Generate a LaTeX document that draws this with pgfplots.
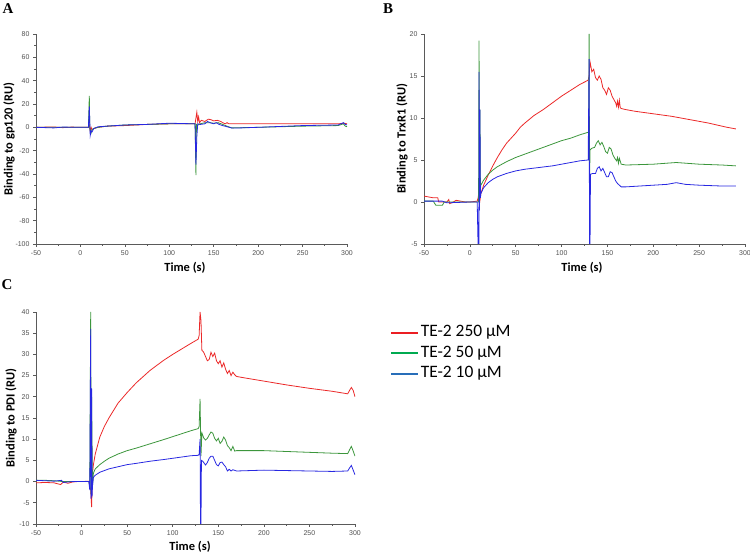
\documentclass[border=0pt]{standalone}
\usepackage{pgfplots}
\pgfplotsset{compat=1.18}
\usepackage{fontspec}
\setmainfont{Liberation Sans}
\newfontfamily\carlito{Carlito}
\newfontfamily\tnr{Liberation Serif}

\definecolor{cred}{RGB}{235,40,40}
\definecolor{cgreen}{RGB}{60,150,60}
\definecolor{cblue}{RGB}{40,40,225}
\definecolor{lred}{RGB}{235,30,35}
\definecolor{lgreen}{RGB}{0,170,80}
\definecolor{lblue}{RGB}{40,110,185}
\definecolor{axgray}{RGB}{90,90,90}
\definecolor{tickgray}{RGB}{80,80,80}

\pgfplotsset{
  spr/.style={
    scale only axis,
    axis lines=left,
    axis line style={-, axgray, line width=0.7bp},
    tick style={axgray, line width=0.6bp},
    tick align=outside,
    major tick length=3bp,
    minor tick length=1.8bp,
    minor x tick num=1,
    minor y tick num=1,
    xmin=-50, xmax=300,
    xtick={-50,0,...,300},
    tick label style={font=\fontsize{7}{7}\selectfont, text=tickgray},
    /pgf/number format/assume math mode=true,
    label style={font=\carlito\bfseries\fontsize{12.5}{13}\selectfont},
    xlabel={Time (s)},
  },
  curve/.style={line width=0.8bp, forget plot},
}

\begin{document}
\begin{tikzpicture}[x=1bp, y=1bp]
\useasboundingbox (0,0) rectangle (750,553);

% panel letters
\node[font=\tnr\bfseries\fontsize{15}{15}\selectfont] at (8,544) {A};
\node[font=\tnr\bfseries\fontsize{15}{15}\selectfont] at (388,544) {B};
\node[font=\tnr\bfseries\fontsize{15}{15}\selectfont] at (7,268) {C};

% ---------------- A: gp120
\begin{axis}[spr,
  at={(36bp,309bp)}, anchor=south west,
  width=311bp, height=210bp,
  ymin=-100, ymax=80, ytick={-100,-80,...,80},
  ylabel={Binding to gp120 (RU)},
  x label style={at={(axis description cs:0.479,-0.114)}, anchor=center},
  y label style={at={(axis description cs:-0.087,0.5)}, anchor=center},
]
\addplot[curve, cred] coordinates {
  (-50,0) (-30,0.3) (-20,-0.3) (-10,0.2) (0,0) (9,0) (10,2) (11,-3) (12,0)
  (13,-2) (15,-1) (20,0) (30,1) (50,1.5) (75,2.5) (100,3) (120,3) (129,3)
  (130,8) (131,13) (132,5) (133,9) (134,4) (136,6) (140,5) (144,7) (147,6.5)
  (150,5.5) (154,6) (158,5) (160,4) (163,3) (165,4) (167,3) (200,3) (250,3)
  (290,3) (297,3.5) (300,3)
};
\addplot[curve, cgreen] coordinates {
  (-50,0) (-20,0) (0,0) (9,0) (10,27) (10.5,0) (11,-3) (12,-5) (13,-2) (15,-1)
  (20,0) (30,1) (50,2) (75,2.5) (100,3) (129,3) (130,-41) (130.5,3) (131,-2)
  (132,2) (135,3) (140,4) (145,4) (150,3.5) (155,4) (160,2.5) (165,1)
  (170,-0.5) (200,0) (250,1) (290,1.5) (296,3) (298,1) (300,0.5)
};
\addplot[curve, cblue] coordinates {
  (-50,0) (-30,-0.5) (-20,0.2) (0,0) (9,0) (10,18) (11,-7) (12,-3) (13,-4)
  (15,-1) (20,0.5) (30,1) (50,2) (75,2.5) (100,3.5) (129,3) (130,-32) (131,-8)
  (132,3) (135,2.5) (140,3) (143,5) (146,4) (150,3) (153,4) (156,2.5) (160,1.5)
  (165,0.5) (170,-0.5) (180,-0.5) (200,0) (250,1.5) (290,2) (296,4) (298,2.5)
  (300,2)
};
\end{axis}

% ---------------- B: TrxR1
\begin{axis}[spr,
  at={(424bp,309bp)}, anchor=south west,
  width=321bp, height=210bp,
  ymin=-5, ymax=20, ytick={-5,0,...,20},
  minor y tick num=0,
  ylabel={Binding to TrxR1 (RU)},
  x label style={at={(axis description cs:0.492,-0.114)}, anchor=center},
  y label style={at={(axis description cs:-0.0685,0.5)}, anchor=center},
]
\addplot[curve, cred] coordinates {
  (-50,0.7) (-40,0.5) (-35,0.5) (-34,0) (-25,0) (-23,0.3) (-22,-0.2) (-18,0)
  (-15,0.2) (-10,0.1) (-5,0) (0,0) (8,0.1) (9,0.5) (10,1.3) (11,0.2) (12,1.0)
  (15,2.0) (20,3.2) (25,4.3) (30,5.3) (35,6.2) (40,7.0) (45,7.6) (50,8.2)
  (55,8.9) (60,9.4) (70,10.3) (80,11.0) (90,11.8) (100,12.6) (110,13.3)
  (120,14.0) (129,14.5) (130,15) (131,16.7) (133,15.5) (135,15.8) (137,14.8)
  (139,14.5) (141,15.0) (143,14.6) (145,13.6) (147,13.3) (149,12.8) (151,13.6)
  (153,13.3) (155,12.6) (157,12.2) (159,11.8) (160,11.4) (161,12.0) (162,11.3)
  (163,12.1) (164,11.2) (166,11.1) (170,11.0) (180,10.8) (200,10.5) (220,10.2)
  (240,9.8) (260,9.4) (280,8.9) (290,8.7)
};
\addplot[curve, cgreen] coordinates {
  (-50,0.1) (-40,0.1) (-37,-0.4) (-30,-0.4) (-28,0) (-10,0) (0,0) (8,0)
  (9.5,0) (10,19.2) (10.5,0.5) (11,11) (11.5,1.5) (12,2.0) (15,2.6) (20,3.3)
  (25,3.8) (30,4.2) (40,4.8) (50,5.3) (60,5.7) (75,6.3) (90,6.9) (100,7.3)
  (110,7.6) (120,8.0) (129,8.3) (129.5,8.3) (130,20) (130.5,2) (131,6.2)
  (133,6.4) (136,6.5) (138,7.0) (140,7.3) (142,6.8) (144,7.1) (146,6.6)
  (148,6.0) (150,5.8) (152,6.5) (154,6.3) (156,5.6) (158,5.2) (160,4.9)
  (161,5.3) (162,4.6) (163,5.2) (165,4.5) (170,4.4) (200,4.5) (225,4.7)
  (250,4.5) (275,4.4) (290,4.3)
};
\addplot[curve, cblue] coordinates {
  (-50,0.1) (-30,0.1) (-25,-0.1) (0,0) (8,0) (9,-5.5) (9.8,-5.5) (10,15.5)
  (10.5,-1) (11,11) (11.5,0.5) (12,1.0) (15,1.7) (20,2.3) (25,2.7) (30,3.0)
  (40,3.4) (50,3.7) (60,3.9) (75,4.1) (90,4.3) (100,4.5) (110,4.7) (120,4.9)
  (129,5.0) (130,17) (130.5,-5.5) (131,-5.5) (131.5,3.3) (134,3.4) (137,3.4)
  (139,4.0) (141,4.2) (143,3.7) (145,4.0) (147,3.5) (149,3.0) (151,3.0)
  (153,3.6) (155,3.5) (157,3.0) (159,2.5) (161,2.2) (163,2.0) (165,1.8)
  (170,1.8) (185,1.9) (200,2.0) (215,2.1) (225,2.3) (235,2.1) (250,2.0)
  (275,1.9) (290,1.9)
};
\end{axis}

% ---------------- C: PDI
\begin{axis}[spr,
  at={(36bp,29bp)}, anchor=south west,
  width=319bp, height=212bp,
  ymin=-10, ymax=40, ytick={-10,-5,...,40},
  minor y tick num=0,
  ylabel={Binding to PDI (RU)},
  x label style={at={(axis description cs:0.483,-0.108)}, anchor=center},
  y label style={at={(axis description cs:-0.078,0.5)}, anchor=center},
  legend style={
    at={(axis description cs:1.10,0.955)}, anchor=north west,
    draw=none, fill=none,
    font=\carlito\fontsize{17.5}{18}\selectfont,
    row sep=2.5bp,
    nodes={inner sep=1.5bp, text height=11.5bp, text depth=3.5bp},
  },
  legend cell align=left,
  legend image code/.code={\draw[#1, line width=2.2bp] (0bp,0bp) -- (27bp,0bp);},
]
\addlegendimage{lred}
\addlegendentry{TE-2 250 µM}
\addlegendimage{lgreen}
\addlegendentry{TE-2 50 µM}
\addlegendimage{lblue}
\addlegendentry{TE-2 10 µM}
\addplot[curve, cred] coordinates {
  (-50,-0.3) (-40,-0.2) (-30,-0.3) (-23,-0.7) (-20,-0.1) (-15,-0.4) (-10,-0.1)
  (-5,0) (0,0) (8,0.1) (10,-2) (11,-6) (12,2) (13,4) (15,6.5) (20,10.5)
  (25,13) (30,15) (40,18.5) (50,21) (60,23.3) (75,26.2) (90,28.6) (100,30)
  (110,31.3) (120,32.6) (128,33.6) (129,34.5) (130,40) (131,38) (132,31)
  (134,30.5) (136,29.5) (138,28.5) (140,28.8) (142,30.5) (144,29.5) (146,30.3)
  (148,28.5) (150,27.8) (152,28.5) (154,27) (156,28) (158,26.5) (160,25.5)
  (162,26.2) (164,25) (166,25.8) (168,25.2) (170,24.8) (175,24.6) (200,23.7)
  (225,22.8) (250,22.0) (275,21.3) (292,20.7) (294,21.5) (296,22.2)
  (298,21.5) (300,20)
};
\addplot[curve, cgreen] coordinates {
  (-50,0.3) (-40,0.3) (-30,0.2) (-20,0) (-10,0) (0,0) (8,0) (9,-1) (10,40)
  (10.5,-3) (11,20) (12,-1) (13,2) (15,3) (20,4) (25,4.8) (30,5.5) (40,6.5)
  (50,7.3) (60,7.9) (75,8.9) (90,9.9) (100,10.6) (110,11.3) (120,12) (128,12.5)
  (129,13) (130,19.5) (131,6) (132,11.5) (134,10.3) (136,9.8) (138,10.2)
  (140,11.0) (142,11.7) (144,11.4) (146,10.2) (148,9.6) (150,10.2) (152,9.0)
  (154,9.5) (156,10.5) (158,9.8) (160,8.5) (162,8.0) (164,7.3) (166,8.3)
  (168,7.2) (170,7.3) (200,7.3) (225,7.1) (250,6.9) (275,6.7) (292,6.6)
  (294,7.5) (296,8.3) (298,7.2) (300,6)
};
\addplot[curve, cblue] coordinates {
  (-50,0.3) (-40,0.2) (-30,0.1) (-22,0.3) (-20,-0.2) (-10,0) (0,0) (8,0)
  (9,-2) (10,36) (10.5,-4) (11,22) (11.5,-3.5) (12,-1) (13,1) (15,1.5)
  (20,2.2) (25,2.6) (30,3.0) (40,3.5) (50,4.0) (60,4.3) (75,4.8) (90,5.2)
  (100,5.5) (110,5.8) (120,6.1) (128,6.2) (129,6.5) (130,10) (130.5,-10.5)
  (131,-10.5) (131.5,5) (133,4.8) (136,3.9) (138,4.5) (140,5.5) (142,6.0)
  (144,6.0) (146,5.0) (148,4.0) (150,3.7) (152,4.5) (154,4.6) (156,4.0)
  (158,3.5) (160,2.5) (162,2.9) (164,2.5) (166,2.8) (170,2.5) (200,2.7)
  (225,2.6) (250,2.5) (275,2.4) (292,2.5) (294,3.2) (296,3.8) (298,2.7)
  (300,1.6)
};
\end{axis}
\end{tikzpicture}
\end{document}
